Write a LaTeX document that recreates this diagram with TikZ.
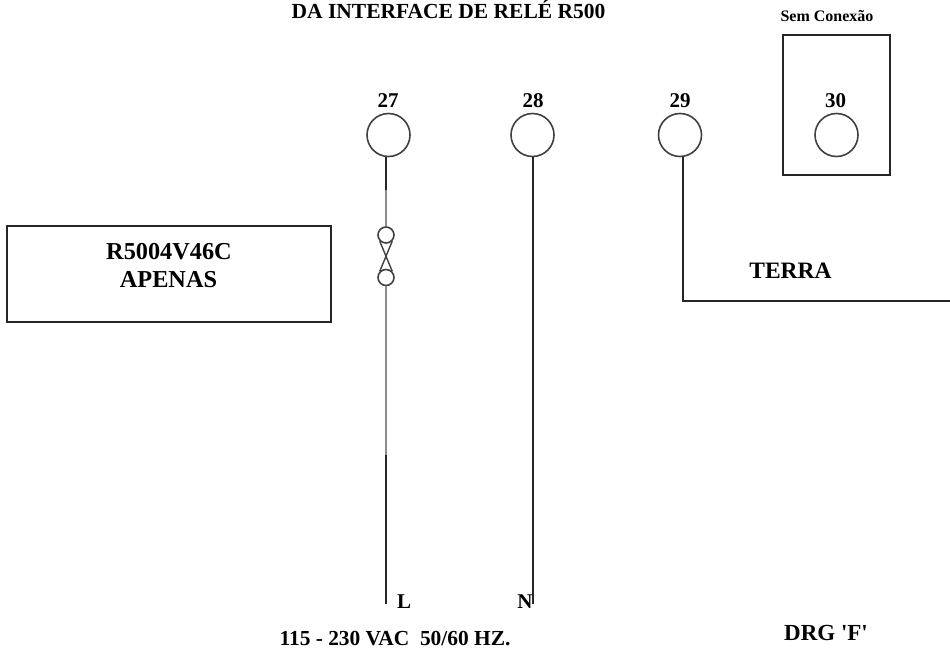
\documentclass[tikz,border=0pt]{standalone}
\usepackage{fontspec}
\setmainfont{Liberation Serif}
\tikzstyle{terminal}=[draw,black!75,circle,minimum size=43pt,inner sep=0pt,line width=1.6pt]
\tikzstyle{fuse}=[draw,black!75,circle,minimum size=16pt,inner sep=0pt,line width=1.6pt]
\tikzstyle{box}=[draw,black!85,line width=1.5pt,inner sep=0pt]
\tikzstyle{wire}=[black!85,line width=1.5pt]
\tikzstyle{label}=[font=\fontsize{21}{24}\bfseries\selectfont,anchor=base,inner sep=0pt]
\begin{document}
\begin{tikzpicture}[x=1pt,y=-1pt]
    \useasboundingbox (0,0) rectangle (950,656);
    \node (title) [label,font=\fontsize{21.5}{24}\bfseries\selectfont] at (448.5,18) {DA INTERFACE DE REL\'E R500};
    \node (sem) [label,font=\fontsize{16}{18}\bfseries\selectfont] at (827,21) {Sem Conex\~ao};
    \node (box30) [box,minimum width=107pt,minimum height=140pt] at (836.5,105) {};
    \node (t27) [terminal] at (388.5,135) {};
    \node (t28) [terminal] at (532.5,135) {};
    \node (t29) [terminal] at (680,135) {};
    \node (t30) [terminal] at (836.5,135) {};
    \node (n27) [label] at (388,107) {27};
    \node (n28) [label] at (533,107) {28};
    \node (n29) [label] at (680,107) {29};
    \node (n30) [label] at (835.5,107) {30};
    \node (apenas) [box,minimum width=324pt,minimum height=96pt] at (169,274) {};
    \node (ta) [label,font=\fontsize{24.3}{28}\bfseries\selectfont] at (169,259) {R5004V46C};
    \node (tb) [label,font=\fontsize{24.3}{28}\bfseries\selectfont] at (168.5,287) {APENAS};
    \node (f1) [fuse] at (386,235) {};
    \node (f2) [fuse] at (386,277.5) {};
    \node (terra) [label,font=\fontsize{23.5}{26}\bfseries\selectfont] at (790.5,278) {TERRA};
    \node (L) [label] at (404,608) {L};
    \node (N) [label] at (525,608) {N};
    \node (vac) [label,font=\fontsize{21.4}{24}\bfseries\selectfont] at (395,645) {115 - 230 VAC\ \ 50/60 HZ.};
    \node (drg) [label,font=\fontsize{23}{26}\bfseries\selectfont] at (826,640) {DRG \textquotesingle F\textquotesingle};
    \coordinate (w27a) at (t27.south -| f1);
    \coordinate (w27b) at (386,190);
    \coordinate (w27c) at (386,455);
    \coordinate (w27d) at (386,604);
    \coordinate (w28) at (533,604);
    \coordinate (w29a) at (683,301);
    \coordinate (w29b) at (950,301);
    % fuse link, gray middle part of the wire
    \draw[wire] (w27a) -- (w27b);
    \draw[wire,black!45] (w27b) -- (f1);
    \draw[wire,black!45] (f2) -- (w27c);
    \draw[wire] (w27c) -- (w27d);
    \draw[black!75,line width=1.4pt] (f1.south west) -- (f2.north east);
    \draw[black!75,line width=1.4pt] (f1.south east) -- (f2.north west);
    \draw[wire] (t28.south -| w28) -- (w28);
    \draw[wire] (t29.south -| w29a) -- (w29a) -- (w29b);
\end{tikzpicture}
\end{document}
